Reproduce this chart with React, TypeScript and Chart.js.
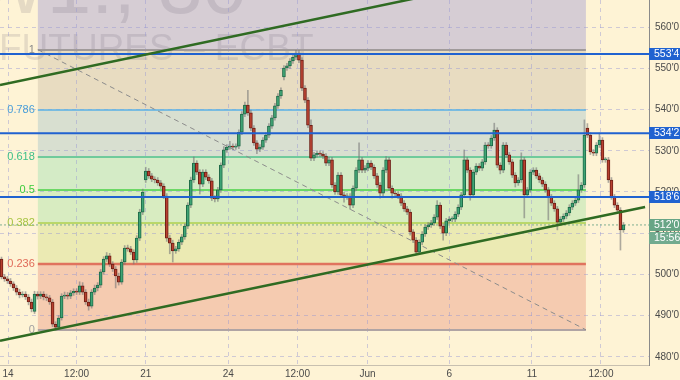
import React, { useEffect, useRef } from 'react';
import { Chart, registerables } from 'chart.js';

Chart.register(...registerables);

// ---- data ----
const OPEN = [503.7,499.4,498.9,498.4,497.7,496.7,495.7,495.0,495.2,494.5,493.3,491.0,495.2,494.7,495.2,494.5,494.3,493.3,487.9,487.2,
489.4,494.7,495.0,494.7,495.5,495.9,495.7,497.2,495.7,493.3,492.3,495.7,496.7,497.4,500.6,503.7,504.5,502.5,501.3,499.6,
498.1,503.0,506.4,506.2,505.4,503.5,508.8,515.1,522.9,525.1,523.9,523.1,522.9,522.2,521.4,519.0,508.8,507.6,505.7,506.2,
507.8,509.1,511.7,516.8,522.9,527.0,524.8,521.9,524.8,523.6,522.7,518.5,518.3,520.5,526.5,530.2,530.9,531.1,530.9,531.1,
534.5,538.9,541.1,539.2,535.5,531.9,530.4,530.9,532.6,533.8,536.0,538.0,540.9,543.3,547.9,550.1,550.6,551.8,552.7,553.7,
552.0,545.2,542.3,536.2,528.2,529.0,529.4,529.2,528.7,527.0,527.8,521.7,520.0,524.1,519.3,518.8,519.0,516.8,520.9,525.3,
527.8,525.3,525.8,527.0,526.0,523.9,521.7,519.7,525.3,527.8,520.9,519.7,519.5,519.0,517.3,515.9,515.1,510.3,508.3,505.4,
507.8,509.8,511.5,512.0,512.5,513.9,516.8,511.7,510.0,513.0,513.4,513.4,514.6,516.3,519.3,527.8,525.3,519.3,524.8,526.3,
525.8,527.3,531.4,531.2,533.1,535.0,526.5,525.3,531.4,529.0,527.3,524.1,522.2,522.9,527.8,519.3,520.5,524.8,525.3,523.9,
522.9,521.9,520.5,518.8,517.3,515.9,512.7,513.4,514.1,514.9,516.3,517.3,518.0,520.5,521.7,535.5,533.8,529.7,529.4,531.4,
532.6,527.8,527.8,522.9,518.8,516.8,515.6,510.8];
const CLOSE = [499.4,498.9,498.4,497.7,496.7,495.7,495.0,495.2,494.5,493.3,491.6,495.2,494.7,495.2,494.5,494.3,493.3,487.9,487.2,489.4,
494.7,495.0,494.7,495.5,495.9,495.7,497.2,495.7,493.3,492.3,495.7,496.7,497.4,500.6,503.7,504.5,502.5,501.3,499.6,498.1,
503.0,506.4,506.2,505.4,503.5,508.8,515.1,520.0,525.1,523.9,523.1,522.9,522.2,521.4,519.0,508.8,507.6,505.7,506.2,507.8,
509.1,511.7,516.8,522.9,527.0,524.8,521.9,524.8,523.6,522.7,518.5,518.3,520.5,526.5,530.2,530.9,531.1,530.9,531.1,534.5,
538.9,541.1,539.2,535.5,531.9,530.4,530.9,532.6,533.8,536.0,538.0,540.9,543.3,544.7,550.1,550.6,551.8,552.7,553.7,552.0,
545.2,542.3,536.2,528.2,529.0,529.4,529.2,528.7,527.0,527.8,521.7,520.0,524.1,519.3,518.8,519.0,516.8,520.9,525.3,527.8,
525.3,525.8,527.0,526.0,523.9,521.7,519.7,525.3,527.8,520.9,519.7,519.5,519.0,517.3,515.9,515.1,510.3,508.3,505.4,507.8,
509.8,511.5,512.0,512.5,513.9,516.8,511.7,510.0,513.0,513.4,513.4,514.6,516.3,519.3,527.8,525.3,519.3,524.8,526.3,525.8,
527.3,531.4,531.2,533.1,535.0,526.5,525.3,531.4,529.0,527.3,524.1,522.2,522.9,527.8,519.3,520.5,524.8,525.3,523.9,522.9,
521.9,520.5,518.8,517.3,515.9,512.7,513.4,514.1,514.9,516.3,517.3,518.0,520.5,521.7,533.8,533.8,529.7,529.4,531.4,532.6,
527.8,527.8,522.9,518.8,516.8,515.6,510.8,512.0];
const HIGH = [504.2,500.0,499.5,499.0,498.2,497.3,496.4,495.8,495.8,495.1,494.0,495.9,495.8,495.8,495.8,495.2,494.9,493.9,488.5,490.0,
495.3,495.7,495.6,496.1,496.5,496.5,498.2,498.0,496.3,494.0,496.3,497.4,498.0,501.2,504.3,505.3,505.1,503.1,501.9,500.3,
503.6,507.0,507.1,506.8,506.0,509.4,515.8,520.7,526.0,525.7,524.5,523.7,523.5,522.8,522.0,519.6,509.5,508.3,506.8,508.4,
509.7,512.3,517.4,523.6,528.5,527.6,525.4,525.4,525.4,524.2,523.3,519.1,521.1,527.1,531.0,531.5,532.3,531.7,531.7,535.1,
539.5,541.8,544.7,539.8,536.1,532.5,531.5,533.2,534.4,536.6,538.6,541.5,543.9,545.3,550.7,551.2,552.4,553.5,554.4,554.3,
552.6,545.8,542.9,537.5,529.6,530.0,530.0,529.8,529.3,528.4,528.4,522.3,524.7,524.7,519.9,519.6,519.6,521.5,525.9,531.9,
528.4,526.4,527.6,527.6,526.6,524.5,522.3,525.9,528.6,528.4,521.5,520.3,520.1,519.6,517.9,516.5,515.7,510.9,508.9,508.4,
510.4,512.1,512.6,513.1,514.5,517.9,517.4,512.3,513.6,514.0,514.0,515.2,516.9,519.9,530.2,528.4,525.9,525.4,526.9,526.9,
527.9,532.0,532.0,533.7,536.7,535.6,527.1,532.0,532.0,529.6,527.9,524.7,523.5,529.5,528.4,521.1,525.4,525.9,525.9,524.5,
523.5,522.5,521.1,519.4,517.9,516.5,514.0,514.7,515.5,516.9,517.9,518.6,524.2,522.3,537.5,536.6,534.4,530.3,532.0,534.3,
533.2,528.4,528.4,523.5,519.4,517.4,516.2,512.6];
const LOW = [498.9,498.3,497.8,497.1,496.1,495.0,494.3,494.5,493.9,492.6,490.9,490.5,494.0,494.1,493.8,493.6,492.7,487.3,486.5,486.7,
488.9,494.1,494.0,494.1,494.9,495.1,495.1,495.1,492.7,491.3,491.8,495.1,496.0,496.8,500.0,503.1,501.9,500.7,496.7,497.4,
497.6,502.4,505.6,504.8,502.5,502.9,508.2,514.5,522.3,523.3,522.5,522.2,521.6,520.8,518.4,508.0,505.0,503.0,505.1,505.6,
507.2,508.5,511.1,516.2,522.3,524.2,519.5,521.3,523.0,522.1,517.9,517.6,517.7,519.9,525.9,529.6,530.3,530.3,530.3,530.5,
533.9,538.3,538.6,534.9,531.3,529.3,529.8,530.3,532.0,533.2,535.4,537.4,540.3,542.7,547.2,549.5,550.0,551.2,552.1,551.4,
544.6,541.7,535.6,527.6,527.6,528.4,528.6,528.1,526.4,526.4,521.1,519.4,519.4,518.7,517.5,518.2,515.8,516.2,520.3,524.7,
524.7,524.7,525.2,525.4,523.3,521.1,518.5,519.1,524.7,520.3,518.5,518.9,518.4,516.7,515.3,514.5,509.5,507.7,504.7,504.8,
507.2,509.2,510.9,511.4,511.9,513.3,511.1,508.3,509.4,512.4,512.8,512.8,514.0,515.7,518.7,524.7,518.0,518.7,524.2,525.2,
525.2,526.7,530.6,530.6,532.5,525.9,524.4,524.7,528.4,526.7,523.5,521.2,521.6,522.3,513.7,518.7,519.9,524.2,523.3,522.3,
521.3,519.9,513.2,516.7,515.3,510.8,512.1,512.8,513.5,514.3,515.7,516.7,517.4,519.9,521.1,533.2,529.1,528.8,528.8,530.8,
527.2,527.2,522.3,518.2,516.2,515.0,505.9,510.2];

const X_MIN = -0.5;
const X_MAX = 215.5;
const X_TICK_POS = [2.2, 25, 48, 75.5, 98.5, 121.8, 149, 176.5, 199.5];
const X_TICK_LABELS = ['14', '12:00', '21', '24', '12:00', 'Jun', '6', '11', '12:00'];
const Y_MIN = 478.0;
const Y_MAX = 566.6;
const Y_TICKS = [480, 490, 500, 510, 520, 530, 540, 550, 560];

// Fibonacci retracement
const FIB_LOW = 486.55;
const FIB_HIGH = 554.56;
const FIB_START = 12.1;
const FIB_END = 194.5;
const FIB_LEVELS = [0, 0.236, 0.382, 0.5, 0.618, 0.786, 1, 1.618];
const FIB_LABELS = ['0', '0.236', '0.382', '0.5', '0.618', '0.786', '1'];
const FIB_LINE_COLORS = ['#b0a4a4', '#e0735e', '#acd04e', '#46d046', '#4cc08c', '#5ab0e6', '#a09a9a'];
const FIB_LABEL_COLORS = ['#a0a0a0', '#e06a58', '#a6c440', '#3ccc3c', '#3cbf88', '#4a9fd8', '#8a8a8a'];
const FIB_LINE_WIDTHS = [2, 2.5, 1.5, 1.5, 1.5, 1.5, 2];
const FIB_BAND_COLORS = ['#f5cbb0', '#ebeab3', '#d8ecc1', '#d4ebc6', '#d8dfd0', '#e8dcc1', '#d6cdd4'];

// drawn lines
const H_LINES = [553.5, 534.25, 518.75];
const LAST_PRICE = 512.0;
const COUNTDOWN = '15:56';
const TREND_UPPER = [[-0.5, 545.95], [160, 570.4]];
const TREND_LOWER = [[-0.5, 483.89], [214.2, 516.34]];
const FIB_DIAGONAL = [[FIB_START, FIB_HIGH], [FIB_END, FIB_LOW]];

const CREAM = '#fef3d5';
const BLUE = '#2062d0';
const GREEN_TAG = '#67a586';
const FONT = '"Liberation Sans", Arial, sans-serif';

const fmt = (v: number) => {
  const whole = Math.floor(v + 1e-9);
  const eighth = Math.round((v - whole) * 8);
  return `${whole}'${eighth}`;
};
const fibPrice = (lv: number) => FIB_LOW + lv * (FIB_HIGH - FIB_LOW);

const backgroundPlugin = {
  id: 'bgfib',
  beforeDraw(chart: any) {
    const { ctx, width, height, chartArea, scales } = chart;
    const x = scales.x, y = scales.y;
    ctx.save();
    ctx.fillStyle = CREAM;
    ctx.fillRect(0, 0, width, height);
    ctx.beginPath();
    ctx.rect(chartArea.left, chartArea.top, chartArea.right - chartArea.left, chartArea.bottom - chartArea.top);
    ctx.clip();
    const x0 = x.getPixelForValue(FIB_START);
    const x1 = x.getPixelForValue(FIB_END);
    for (let k = 0; k < FIB_LEVELS.length - 1; k++) {
      const ya = y.getPixelForValue(fibPrice(FIB_LEVELS[k]));
      const yb = y.getPixelForValue(fibPrice(FIB_LEVELS[k + 1]));
      ctx.fillStyle = FIB_BAND_COLORS[k];
      ctx.fillRect(x0, Math.min(ya, yb), x1 - x0, Math.abs(yb - ya));
    }
    // watermark
    ctx.fillStyle = 'rgba(90,80,100,0.15)';
    ctx.textBaseline = 'alphabetic';
    ctx.font = `80px ${FONT}`;
    ctx.textAlign = 'right';
    ctx.fillText('ZW1!, 30', 247, 13);
    ctx.font = `37px ${FONT}`;
    ctx.textAlign = 'left';
    ctx.fillText('FUTURES \u2013 ECBT', -1, 60);
    ctx.restore();
  },
  beforeDatasetsDraw(chart: any) {
    const { ctx, scales } = chart;
    const x = scales.x, y = scales.y;
    const x0 = x.getPixelForValue(FIB_START);
    const x1 = x.getPixelForValue(FIB_END);
    ctx.save();
    for (let k = 0; k < FIB_LABELS.length; k++) {
      const py = Math.round(y.getPixelForValue(fibPrice(FIB_LEVELS[k])));
      ctx.strokeStyle = FIB_LINE_COLORS[k];
      ctx.lineWidth = FIB_LINE_WIDTHS[k];
      ctx.beginPath();
      ctx.moveTo(x0, py);
      ctx.lineTo(x1, py);
      ctx.stroke();
      ctx.fillStyle = FIB_LABEL_COLORS[k];
      ctx.font = `11px ${FONT}`;
      ctx.textAlign = 'right';
      ctx.textBaseline = 'middle';
      ctx.fillText(FIB_LABELS[k], x0 - 3, py);
    }
    ctx.restore();
  },
  afterDraw(chart: any) {
    const { ctx, chartArea, scales } = chart;
    const y = scales.y;
    const left = chartArea.right;
    ctx.save();
    ctx.font = `10.5px ${FONT}`;
    ctx.textBaseline = 'middle';
    ctx.textAlign = 'left';
    const tag = (cy: number, text: string, bg: string) => {
      ctx.fillStyle = bg;
      ctx.fillRect(left, Math.round(cy - 6), 40, 12);
      ctx.fillStyle = '#ffffff';
      ctx.fillText(text, left + 5, Math.round(cy) + 0.5);
    };
    H_LINES.forEach((p) => tag(y.getPixelForValue(p), fmt(p), BLUE));
    const ly = y.getPixelForValue(LAST_PRICE);
    tag(ly, fmt(LAST_PRICE), GREEN_TAG);
    tag(ly + 13, COUNTDOWN, '#72ab8f');
    ctx.restore();
  },
};

const hline = (p: number) => [{ x: X_MIN, y: p }, { x: X_MAX, y: p }];
const pts = (arr: number[][]) => arr.map(([a, b]) => ({ x: a, y: b }));

export default function App() {
  const ref = useRef<HTMLCanvasElement>(null);
  useEffect(() => {
    const up = CLOSE.map((c, i) => c >= OPEN[i]);
    const bodyColors = up.map((u) => (u ? '#3fa474' : '#b8402f'));
    const bodyBorders = up.map((u) => (u ? '#1f6a48' : '#6e1f16'));
    const datasets: any[] = [
      {
        type: 'line', data: pts(TREND_UPPER), borderColor: '#2f6b22', borderWidth: 2.5,
        pointRadius: 0, order: 0,
      },
      {
        type: 'line', data: pts(TREND_LOWER), borderColor: '#2f6b22', borderWidth: 2.5,
        pointRadius: 0, order: 0,
      },
      ...H_LINES.map((p) => ({
        type: 'line', data: hline(p), borderColor: BLUE, borderWidth: 2, pointRadius: 0, order: 1,
      })),
      {
        type: 'bar', data: CLOSE.map((c, i) => ({ x: i, y: [OPEN[i], c] })),
        backgroundColor: bodyColors, borderColor: bodyBorders, borderWidth: 1, borderSkipped: false,
        barThickness: 3, grouped: false, minBarLength: 1, order: 2,
      },
      {
        type: 'bar', data: HIGH.map((h, i) => ({ x: i, y: [LOW[i], h] })),
        backgroundColor: 'rgba(120,120,120,0.6)', borderWidth: 0,
        barThickness: 1, grouped: false, order: 3,
      },
      {
        type: 'line', data: hline(LAST_PRICE), borderColor: '#7fae90', borderWidth: 1,
        borderDash: [2, 2], pointRadius: 0, order: 4,
      },
      {
        type: 'line', data: pts(FIB_DIAGONAL), borderColor: '#8c8c8c', borderWidth: 1,
        borderDash: [5, 4], pointRadius: 0, order: 5,
      },
    ];

    Chart.defaults.font.family = FONT;
    const chart = new Chart(ref.current as HTMLCanvasElement, {
      type: 'bar',
      data: { datasets },
      plugins: [backgroundPlugin],
      options: {
        animation: false,
        responsive: false,
        layout: { padding: 0 },
        plugins: { legend: { display: false }, tooltip: { enabled: false } },
        scales: {
          x: {
            type: 'linear', min: X_MIN, max: X_MAX, offset: false,
            afterBuildTicks: (s: any) => { s.ticks = X_TICK_POS.map((v) => ({ value: v })); },
            afterFit: (s: any) => { s.height = 15; s.paddingLeft = 0; s.paddingRight = 0; },
            ticks: {
              autoSkip: false, maxRotation: 0, padding: 3, color: '#4a4a4a', font: { size: 10 },
              callback: (_v: any, i: number) => X_TICK_LABELS[i],
            },
            grid: { offset: false, color: 'rgba(150,150,210,0.45)', drawTicks: false },
            border: { display: true, color: '#c8c0b0', dash: [4, 4] },
          },
          y: {
            type: 'linear', position: 'right', min: Y_MIN, max: Y_MAX,
            afterBuildTicks: (s: any) => { s.ticks = Y_TICKS.map((v) => ({ value: v })); },
            afterFit: (s: any) => { s.width = 31; s.paddingTop = 0; s.paddingBottom = 0; },
            ticks: {
              padding: 6, color: '#4a4a4a', font: { size: 10 },
              callback: (v: any) => fmt(Number(v)),
            },
            grid: { color: 'rgba(150,150,210,0.45)', drawTicks: false },
            border: { display: true, color: '#8a8a8a', dash: [4, 4] },
          },
        },
      } as any,
    });
    return () => chart.destroy();
  }, []);
  return (
    <div style={{ position: 'fixed', left: 0, top: 0, width: 680, height: 380 }}>
      <canvas ref={ref} width={680} height={380} style={{ display: 'block' }} />
    </div>
  );
}
